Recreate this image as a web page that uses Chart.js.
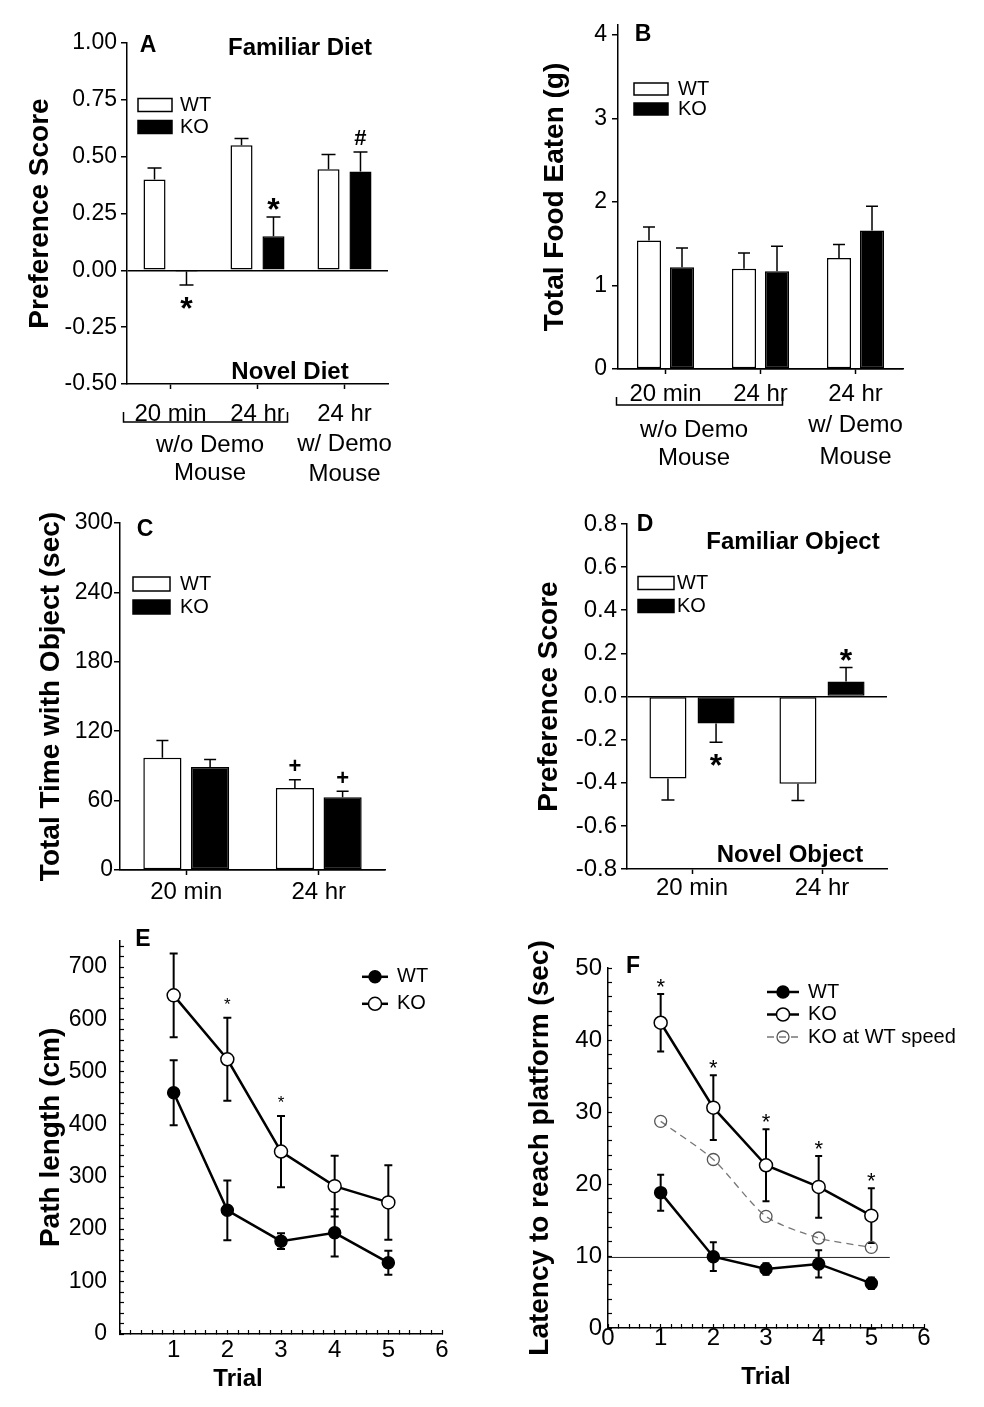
<!DOCTYPE html>
<html>
<head>
<meta charset="utf-8">
<script src="https://cdn.jsdelivr.net/npm/chart.js@4/dist/chart.umd.min.js"></script>
<style>
  body { margin: 0; background: #fff; width: 984px; height: 1407px; position: relative; overflow: hidden; }
  canvas { position: absolute; }
</style>
</head>
<body>
<canvas id="chA" width="430" height="490" style="left:0;top:0"></canvas>
<canvas id="chB" width="450" height="490" style="left:520px;top:0"></canvas>
<canvas id="chC" width="450" height="420" style="left:0;top:490px"></canvas>
<canvas id="chD" width="450" height="420" style="left:520px;top:490px"></canvas>
<canvas id="chE" width="470" height="497" style="left:0;top:910px"></canvas>
<canvas id="chF" width="494" height="497" style="left:490px;top:910px"></canvas>
<script>
// A - diet preference
const dietLabels = ['20 min', '24 hr', ['24 hr', 'w/ Demo', 'Mouse']]
const dietPrefWT = [0.40, 0.55, 0.445]
const dietPrefWTErr = [0.05, 0.03, 0.065]
const dietPrefKO = [-0.005, 0.15, 0.435]
const dietPrefKOErr = [0.06, 0.085, 0.085]
const dietPrefKOSig = ['*', '*', '#']
// B - food eaten
const foodWT = [1.54, 1.20, 1.33]
const foodWTErr = [0.16, 0.19, 0.16]
const foodKO = [1.22, 1.17, 1.66]
const foodKOErr = [0.23, 0.30, 0.29]
// C - time with object
const objLabels = ['20 min', '24 hr']
const timeWT = [97, 71]
const timeWTErr = [15, 7]
const timeWTSig = ['', '+']
const timeKO = [89, 63]
const timeKOErr = [6.5, 5]
const timeKOSig = ['', '+']
// D - object preference
const objPrefWT = [-0.38, -0.405]
const objPrefWTErr = [0.10, 0.077]
const objPrefKO = [-0.125, 0.07]
const objPrefKOErr = [0.087, 0.065]
const objPrefKOSig = ['*', '*']
// E - path length
const trials = [1, 2, 3, 4, 5]
const pathWT = [460, 236, 177, 193, 136]
const pathWTErr = [62, 57, 15, 45, 23]
const pathKO = [646, 524, 348, 282, 251]
const pathKOErr = [80, 79, 68, 58, 71]
const pathKOSig = ['', '*', '*', '', '']
// F - latency
const latWT = [18.8, 9.9, 8.2, 8.9, 6.2]
const latWTErr = [2.5, 2.0, 0.8, 1.9, 0.8]
const latKO = [42.4, 30.6, 22.6, 19.6, 15.6]
const latKOErr = [4.0, 4.5, 5.0, 4.3, 3.8]
const latKOSig = ['*', '*', '*', '*', '*']
const latKOSpeed = [28.7, 23.4, 15.5, 12.5, 11.2]
const platformLevel = 9.8
const platformSpan = [0, 5.35]

const FONT = "'Liberation Sans', Arial, Helvetica, sans-serif"
Chart.defaults.font.family = FONT
Chart.defaults.color = '#000'
Chart.defaults.animation = false

function xy(xs, ys) { return xs.map((x, i) => ({x: x, y: ys[i]})) }
// ticks only on whole steps, whatever the axis max is
function onStep(step) {
    return s => {
        const out = []
        for (let k = Math.ceil(s.min / step - 1e-9); k * step <= s.max + 1e-9; k++) {
            out.push({value: Math.round(k * step * 1e6) / 1e6})
        }
        s.ticks = out
    }
}
function text(ctx, s, x, y, font, align) {
    ctx.font = font + ' ' + FONT
    ctx.textAlign = align || 'center'
    ctx.textBaseline = 'middle'
    ctx.fillStyle = '#000'
    ctx.fillText(s, x, y)
}
function valueOf(raw) { return typeof raw === 'object' ? raw.y : raw }

// error bars, significance marks, legend, labels
function decor(cfg) {
    function errors(chart) {
        const ctx = chart.ctx
        chart.data.datasets.forEach((ds, i) => {
            if (!ds.err) return
            const meta = chart.getDatasetMeta(i)
            const ys = chart.scales[meta.yAxisID]
            meta.data.forEach((el, j) => {
                const e = ds.err[j]
                if (!e) return
                const v = valueOf(ds.data[j])
                let lo = v - e, hi = v + e
                if (cfg.bars) { lo = v; hi = v + (v < 0 ? -1 : 1) * e }
                const y1 = ys.getPixelForValue(lo), y2 = ys.getPixelForValue(hi)
                const c = cfg.cap / 2
                ctx.save()
                ctx.strokeStyle = '#000'
                ctx.lineWidth = cfg.errW
                ctx.beginPath()
                ctx.moveTo(el.x, y1); ctx.lineTo(el.x, y2)
                ctx.moveTo(el.x - c, y2); ctx.lineTo(el.x + c, y2)
                if (!cfg.bars) { ctx.moveTo(el.x - c, y1); ctx.lineTo(el.x + c, y1) }
                ctx.stroke()
                ctx.restore()
            })
        })
    }
    function marks(chart) {
        const ctx = chart.ctx
        chart.data.datasets.forEach((ds, i) => {
            if (!ds.sig) return
            const meta = chart.getDatasetMeta(i)
            const ys = chart.scales[meta.yAxisID]
            meta.data.forEach((el, j) => {
                const s = ds.sig[j]
                if (!s) return
                const v = valueOf(ds.data[j])
                const dir = cfg.bars && v < 0 ? -1 : 1
                const cy = ys.getPixelForValue(v + dir * (ds.err ? ds.err[j] : 0)) - dir * cfg.sigGap
                const size = s === '*' ? cfg.starSize : cfg.symSize
                ctx.font = cfg.sigWeight + ' ' + size + 'px ' + FONT
                ctx.textAlign = 'center'
                ctx.textBaseline = 'alphabetic'
                ctx.fillStyle = '#000'
                ctx.fillText(s, el.x, cy + (s === '*' ? 0.58 : 0.35) * size)
            })
        })
    }
    function legend(chart) {
        const ctx = chart.ctx, a = chart.chartArea, L = cfg.legend
        if (!L) return
        chart.data.datasets.filter(ds => ds.label).forEach((ds, i) => {
            const x = a.left + L.x, y = a.top + L.y + i * L.row
            ctx.save()
            if (L.box) {
                ctx.fillStyle = ds.backgroundColor
                ctx.fillRect(x, y - L.h / 2, L.w, L.h)
                ctx.strokeStyle = '#000'
                ctx.lineWidth = 1.5
                ctx.strokeRect(x, y - L.h / 2, L.w, L.h)
            } else {
                ctx.strokeStyle = ds.borderColor
                ctx.lineWidth = ds.borderWidth
                ctx.setLineDash(ds.borderDash || [])
                ctx.beginPath(); ctx.moveTo(x, y); ctx.lineTo(x + L.w, y); ctx.stroke()
                ctx.setLineDash([])
                ctx.beginPath()
                ctx.arc(x + L.w / 2, y, ds.pointRadius, 0, Math.PI * 2)
                ctx.fillStyle = ds.pointBackgroundColor
                ctx.fill()
                ctx.strokeStyle = ds.pointBorderColor
                ctx.lineWidth = ds.pointBorderWidth
                ctx.stroke()
            }
            ctx.restore()
            text(ctx, ds.label, x + L.w + L.gap, y, L.font, 'left')
        })
    }
    function labels(chart) {
        const ctx = chart.ctx, a = chart.chartArea
        ;(cfg.texts || []).forEach(t => text(ctx, t.s, a.left + t.x, a.top + t.y, t.f, 'center'))
        const B = cfg.bracket
        if (!B) return
        const xs = chart.scales.x
        const p0 = xs.getPixelForTick(0), p1 = xs.getPixelForTick(1)
        const yb = a.bottom + B.y
        ctx.save()
        ctx.strokeStyle = '#000'
        ctx.lineWidth = 1.5
        ctx.beginPath()
        ctx.moveTo(p0 + B.l, yb - B.h); ctx.lineTo(p0 + B.l, yb)
        ctx.lineTo(p1 + B.r, yb); ctx.lineTo(p1 + B.r, yb - B.h)
        ctx.stroke()
        ctx.restore()
        B.lines.forEach((s, k) => text(ctx, s, (p0 + p1) / 2 + B.tx, a.bottom + B.ly[k], '24px', 'center'))
    }
    return {
        id: 'decor',
        beforeDatasetsDraw(chart) { if (!cfg.bars) errors(chart) },
        afterDatasetsDraw(chart) { if (cfg.bars) errors(chart); marks(chart) },
        afterDraw(chart) { legend(chart); labels(chart) }
    }
}

function barChart(id, o) {
    const bar = {borderColor: '#000', borderWidth: 1.5, borderSkipped: false,
                 categoryPercentage: o.cp, barPercentage: o.bp}
    return new Chart(document.getElementById(id), {
        type: 'bar',
        data: {
            labels: o.labels,
            datasets: [
                Object.assign({label: 'WT', data: o.wt, err: o.wtErr, sig: o.wtSig, backgroundColor: '#fff'}, bar),
                Object.assign({label: 'KO', data: o.ko, err: o.koErr, sig: o.koSig, backgroundColor: '#000'}, bar)
            ]
        },
        options: {
            responsive: false,
            animation: false,
            layout: {autoPadding: false, padding: {left: 0, top: o.padTop, right: o.padRight, bottom: 0}},
            plugins: {legend: {display: false}, tooltip: {enabled: false}},
            scales: {
                x: {
                    afterFit: s => { s.height = o.xH },
                    grid: {display: true, drawOnChartArea: false, offset: false, tickLength: 5, tickColor: '#000', tickWidth: 1.5},
                    border: {color: '#000', width: 1.5},
                    ticks: {font: {size: 24, lineHeight: o.xLine}, padding: o.xPad, maxRotation: 0, autoSkip: false}
                },
                y: {
                    min: o.min, max: o.max,
                    afterFit: s => { s.width = o.yW },
                    afterBuildTicks: onStep(o.step),
                    ticks: {stepSize: o.step, callback: v => v.toFixed(o.dec), font: {size: o.tickSize}, padding: o.yPad},
                    grid: {color: c => Math.abs(c.tick.value) < 1e-9 ? '#000' : 'rgba(0,0,0,0)', lineWidth: 1.5,
                           tickLength: 6, tickColor: '#000', tickWidth: 1.5},
                    border: {color: '#000', width: 1.5},
                    title: {display: true, text: o.yTitle, font: {size: 28, weight: 'bold'}, padding: {top: o.titlePad, bottom: 0}}
                }
            }
        },
        plugins: [decor(o.decor)]
    })
}

function lineChart(id, o) {
    return new Chart(document.getElementById(id), {
        type: 'line',
        data: {datasets: o.datasets},
        options: {
            responsive: false,
            animation: false,
            layout: {autoPadding: false, padding: {left: 0, top: o.padTop, right: o.padRight, bottom: 0}},
            plugins: {legend: {display: false}, tooltip: {enabled: false}},
            scales: {
                x: {
                    type: 'linear', min: 0, max: 6,
                    afterFit: s => { s.height = o.xH },
                    afterBuildTicks: onStep(0.2),
                    ticks: {stepSize: 0.2, autoSkip: false, font: {size: 24}, padding: o.xPad, maxRotation: 0,
                            callback: v => (Math.abs(v - Math.round(v)) < 1e-6 && v >= o.xFirst) ? Math.round(v) : ''},
                    grid: {display: true, drawOnChartArea: false, tickLength: -4, tickColor: '#000', tickWidth: 1.2},
                    border: {color: '#000', width: 1.5},
                    title: {display: !!o.xTitle, text: o.xTitle, font: {size: 24, weight: 'bold'}, padding: {top: 0, bottom: 15}}
                },
                y: {
                    min: 0, max: o.max,
                    afterFit: s => { s.width = o.yW },
                    afterBuildTicks: onStep(o.minor),
                    ticks: {stepSize: o.minor, autoSkip: false, font: {size: o.tickSize}, padding: o.yPad,
                            callback: v => v % o.major === 0 ? v : ''},
                    grid: {display: true, drawOnChartArea: false, tickLength: -4, tickColor: '#000', tickWidth: 1.2},
                    border: {color: '#000', width: 1.5},
                    title: {display: true, text: o.yTitle, font: {size: 28, weight: 'bold'}, padding: {top: o.titlePad, bottom: 0}}
                }
            }
        },
        plugins: [decor(o.decor)]
    })
}

// A
barChart('chA', {
    labels: dietLabels, wt: dietPrefWT, wtErr: dietPrefWTErr, ko: dietPrefKO, koErr: dietPrefKOErr, koSig: dietPrefKOSig,
    cp: 0.735, bp: 0.69, padTop: 43, padRight: 42, yW: 127, xH: 106, xLine: 1.25, xPad: 10,
    min: -0.5, max: 1.0, step: 0.25, dec: 2, tickSize: 23, yPad: 4, yTitle: 'Preference Score', titlePad: 23,
    decor: {
        bars: true, cap: 14, errW: 1.5, sigGap: 15, starSize: 32, symSize: 22, sigWeight: 'bold',
        legend: {box: true, x: 11, y: 62, w: 34, h: 13, row: 22, gap: 8, font: '20px'},
        texts: [
            {s: 'A', x: 21, y: 3, f: 'bold 23px'},
            {s: 'Familiar Diet', x: 173, y: 5, f: 'bold 24px'},
            {s: 'Novel Diet', x: 163, y: 329, f: 'bold 24px'}
        ],
        bracket: {l: -47, r: 30, y: 38, h: 10, tx: -4, lines: ['w/o Demo', 'Mouse'], ly: [61, 89]}
    }
})
// B
barChart('chB', {
    labels: dietLabels, wt: foodWT, wtErr: foodWTErr, ko: foodKO, koErr: foodKOErr,
    cp: 0.695, bp: 0.73, padTop: 25, padRight: 67, yW: 98, xH: 121, xLine: 1.3, xPad: 5,
    min: 0, max: 4.12, step: 1, dec: 0, tickSize: 23, yPad: 5, yTitle: 'Total Food Eaten (g)', titlePad: 18,
    decor: {
        bars: true, cap: 12, errW: 1.5, sigGap: 15, starSize: 32, symSize: 22, sigWeight: 'bold',
        legend: {box: true, x: 16, y: 64, w: 34, h: 12, row: 20, gap: 10, font: '20px'},
        texts: [{s: 'B', x: 25, y: 10, f: 'bold 23px'}],
        bracket: {l: -49, r: 22, y: 36, h: 8, tx: -19, lines: ['w/o Demo', 'Mouse'], ly: [61, 89]}
    }
})
// C
barChart('chC', {
    labels: objLabels, wt: timeWT, wtErr: timeWTErr, wtSig: timeWTSig, ko: timeKO, koErr: timeKOErr, koSig: timeKOSig,
    cp: 0.72, bp: 0.8, padTop: 33, padRight: 65, yW: 120, xH: 40, xLine: 1.2, xPad: 3,
    min: 0, max: 300, step: 60, dec: 0, tickSize: 23, yPad: 1, yTitle: 'Total Time with Object (sec)', titlePad: 34,
    decor: {
        bars: true, cap: 12, errW: 1.5, sigGap: 14, starSize: 32, symSize: 22, sigWeight: 'bold',
        legend: {box: true, x: 13, y: 61, w: 37, h: 14, row: 23, gap: 10, font: '20px'},
        texts: [{s: 'C', x: 25, y: 7, f: 'bold 23px'}]
    }
})
// D
barChart('chD', {
    labels: objLabels, wt: objPrefWT, wtErr: objPrefWTErr, ko: objPrefKO, koErr: objPrefKOErr, koSig: objPrefKOSig,
    cp: 0.74, bp: 0.77, padTop: 34, padRight: 83, yW: 107, xH: 41, xLine: 1.2, xPad: 0,
    min: -0.8, max: 0.8, step: 0.2, dec: 1, tickSize: 24, yPad: 4, yTitle: 'Preference Score', titlePad: 12,
    decor: {
        bars: true, cap: 13, errW: 1.5, sigGap: 15, starSize: 32, symSize: 22, sigWeight: 'bold',
        legend: {box: true, x: 11, y: 59, w: 36, h: 13, row: 23, gap: 3, font: '20px'},
        texts: [
            {s: 'D', x: 18, y: 1, f: 'bold 23px'},
            {s: 'Familiar Object', x: 166, y: 18, f: 'bold 24px'},
            {s: 'Novel Object', x: 163, y: 331, f: 'bold 24px'}
        ]
    }
})
// E
lineChart('chE', {
    datasets: [
        {label: 'WT', data: xy(trials, pathWT), err: pathWTErr, borderColor: '#000', borderWidth: 2.5,
         pointRadius: 6, pointBackgroundColor: '#000', pointBorderColor: '#000', pointBorderWidth: 1.5},
        {label: 'KO', data: xy(trials, pathKO), err: pathKOErr, sig: pathKOSig, borderColor: '#000', borderWidth: 2.5,
         pointRadius: 6.5, pointBackgroundColor: '#fff', pointBorderColor: '#000', pointBorderWidth: 1.5}
    ],
    padTop: 29, padRight: 28, yW: 120, xH: 73, xPad: 6, xFirst: 1,
    max: 750, minor: 20, major: 100, tickSize: 23, yPad: 17, yTitle: 'Path length (cm)', titlePad: 34,
    decor: {
        bars: false, cap: 8, errW: 2, sigGap: 18, starSize: 17, symSize: 17, sigWeight: 'normal',
        legend: {box: false, x: 242, y: 36, w: 26, row: 27, gap: 9, font: '20px'},
        texts: [
            {s: 'E', x: 23, y: -1, f: 'bold 23px'},
            {s: 'Trial', x: 118, y: 439, f: 'bold 24px'}
        ]
    }
})
// F
lineChart('chF', {
    datasets: [
        {label: 'WT', data: xy(trials, latWT), err: latWTErr, borderColor: '#000', borderWidth: 2.5,
         pointRadius: 6, pointBackgroundColor: '#000', pointBorderColor: '#000', pointBorderWidth: 1.5},
        {label: 'KO', data: xy(trials, latKO), err: latKOErr, sig: latKOSig, borderColor: '#000', borderWidth: 2.5,
         pointRadius: 6.5, pointBackgroundColor: '#fff', pointBorderColor: '#000', pointBorderWidth: 1.5},
        {label: 'KO at WT speed', data: xy(trials, latKOSpeed), borderColor: '#777', borderWidth: 1.3, borderDash: [7, 5],
         tension: 0.25, pointRadius: 6, pointBackgroundColor: 'rgba(0,0,0,0)', pointBorderColor: '#555', pointBorderWidth: 1.3},
        {data: xy(platformSpan, platformSpan.map(() => platformLevel)), borderColor: '#222', borderWidth: 1, pointRadius: 0}
    ],
    padTop: 58, padRight: 60, yW: 118, xH: 79, xPad: 0, xFirst: 0, xTitle: 'Trial',
    max: 50, minor: 2, major: 10, tickSize: 24, yPad: 10, yTitle: 'Latency to reach platform (sec)', titlePad: 33,
    decor: {
        bars: false, cap: 7, errW: 2, sigGap: 13, starSize: 22, symSize: 22, sigWeight: 'normal',
        legend: {box: false, x: 159, y: 24, w: 32, row: 22.5, gap: 9, font: '20px'},
        texts: [{s: 'F', x: 25, y: -1, f: 'bold 23px'}]
    }
})
</script>
</body>
</html>
